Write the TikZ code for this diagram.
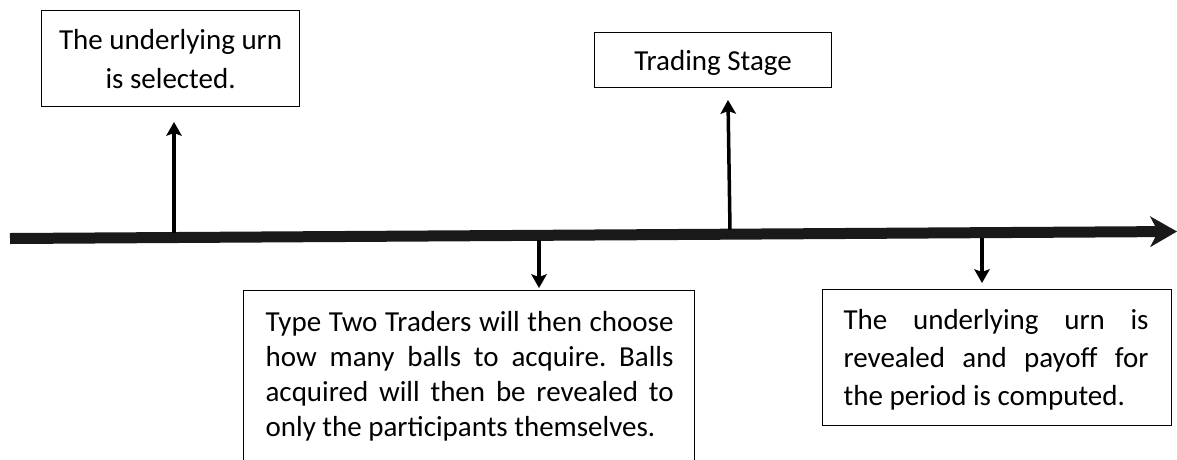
\documentclass[tikz,border=0pt]{standalone}
\usepackage{fontspec}
\setmainfont{Carlito}
\usetikzlibrary{arrows.meta}
\frenchspacing
\newcommand{\bxrow}[2]{\setbox0=\hbox to #1{#2}\ht0=0pt \dp0=0pt \box0}
\begin{document}
\begin{tikzpicture}[x=1pt,y=-1pt,
  box/.style={draw=black, line width=1.2pt, inner sep=0pt, anchor=north west, font=\fontsize{29}{29}\selectfont\frenchspacing},
  tick/.style={line width=3.5pt, -{Stealth[length=14pt,width=16pt,inset=3pt,line width=0pt]}},
  axis/.style={draw={black!90}, line width=11pt, -{Stealth[length=27pt,width=31pt,inset=8pt,line width=0pt]}}]
\useasboundingbox (0,0) rectangle (1177,459);
\clip (0,0) rectangle (1177,459);
% timeline
\coordinate (t0) at (10,238.5);
\coordinate (t1) at (1177,231.5);
\draw[axis] (t0) -- (t1);
% boxes
\node[box] (b1) at (41,10) {\vbox to 96pt{\offinterlineskip\vskip39pt
  \bxrow{258pt}{\hss The underlying urn\hss}\vskip39pt
  \bxrow{258pt}{\hss is selected.\hss}\vss}};
\node[box] (b2) at (594,32) {\vbox to 55pt{\offinterlineskip\vskip38pt
  \bxrow{237pt}{\hss Trading Stage\hss}\vss}};
\node[box] (b3) at (243,290) {\vbox to 200pt{\offinterlineskip\vskip41pt
  \bxrow{451pt}{\hskip22pt\hbox to 408pt{Type Two Traders will then choose}\hss}\vskip35pt
  \bxrow{451pt}{\hskip22pt\hbox to 408pt{how many balls to acquire. Balls}\hss}\vskip35pt
  \bxrow{451pt}{\hskip22pt\hbox to 408pt{acquired will then be revealed to}\hss}\vskip35pt
  \bxrow{451pt}{\hskip22pt\hbox to 408pt{only the participants themselves.\hss}\hss}\vss}};
\node[box] (b4) at (822,289) {\vbox to 136pt{\offinterlineskip\vskip40pt
  \bxrow{349pt}{\hskip21pt\hbox to 305pt{The underlying urn is}\hss}\vskip38pt
  \bxrow{349pt}{\hskip21pt\hbox to 305pt{revealed and payoff for}\hss}\vskip38pt
  \bxrow{349pt}{\hskip21pt\hbox to 305pt{the period is computed.\hss}\hss}\vss}};
% ticks
\coordinate (u1) at (174,233);
\coordinate (u1e) at (174,122);
\coordinate (u2) at (730,229.5);
\coordinate (u2e) at (728,100);
\coordinate (d1) at (539,240);
\coordinate (d1e) at (539,288);
\coordinate (d2) at (982,237.5);
\coordinate (d2e) at (982,283);
\draw[tick] (u1) -- (u1e);
\draw[tick] (u2) -- (u2e);
\draw[tick] (d1) -- (d1e);
\draw[tick] (d2) -- (d2e);
\end{tikzpicture}
\end{document}
